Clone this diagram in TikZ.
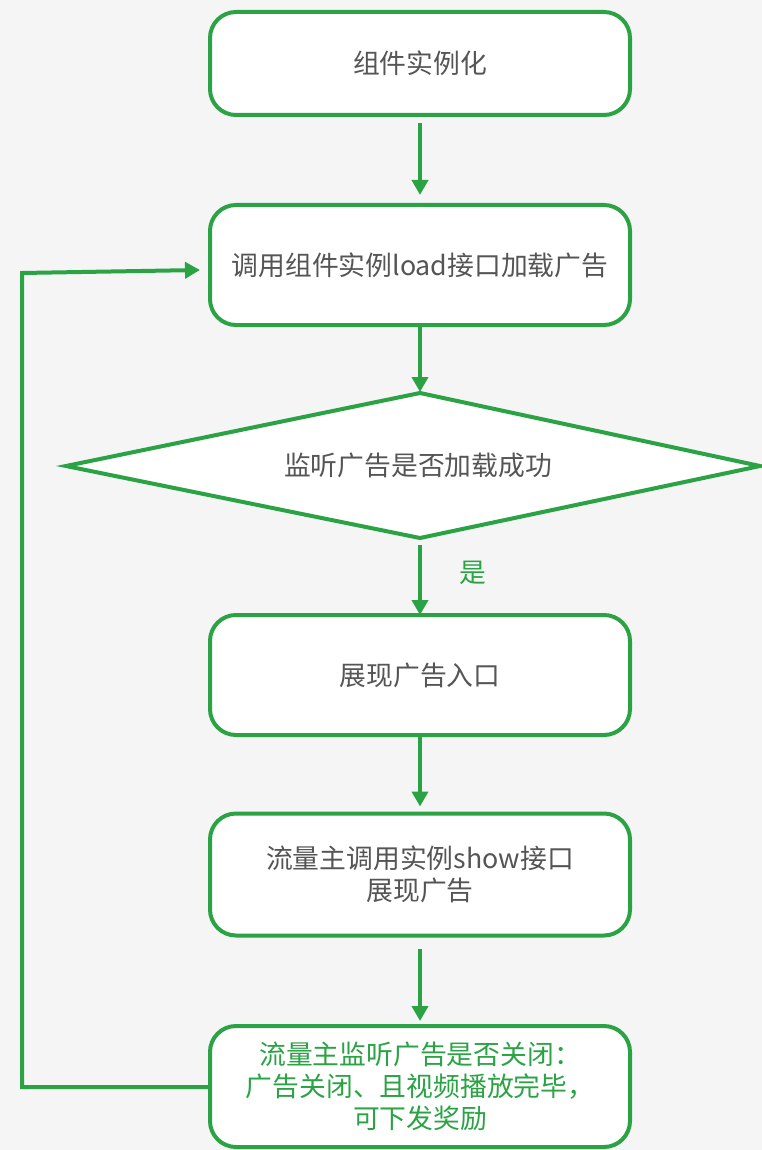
\documentclass[tikz,border=0pt]{standalone}
\usepackage{fontspec}
\setmainfont{Noto Sans CJK SC}
\usetikzlibrary{arrows.meta,calc}
\definecolor{gr}{RGB}{43,163,69}
\definecolor{txt}{RGB}{85,85,85}
\definecolor{bg}{RGB}{245,245,245}
\begin{document}
\begin{tikzpicture}[x=1pt,y=-1pt,
  box/.style={draw=gr,line width=4pt,fill=white,rounded corners=26pt,
    minimum width=420pt,inner sep=0pt,align=center,text=txt,
    font=\fontsize{26.8}{32}\selectfont},
  conn/.style={draw=gr,line width=4pt,-{Triangle[length=15pt,width=16pt]}},
  lbl/.style={text=gr,font=\fontsize{26.8}{32}\selectfont}]
\useasboundingbox (0,0) rectangle (762,1150);
\fill[bg] (0,0) rectangle (762,1150);

\node[box,minimum height=103pt] (b1) at (420,63.5) {组件实例化};
\node[box,minimum height=120pt] (b2) at (420,265) {调用组件实例load接口加载广告};

\coordinate (dt) at (420,393);
\coordinate (dr) at (760,466);
\coordinate (db) at (420,538);
\coordinate (dl) at (66,466);
\draw[gr,line width=4pt,fill=white,line join=miter] (dt) -- (dr) -- (db) -- (dl) -- cycle;
\node[text=txt,font=\fontsize{26.8}{32}\selectfont] (d) at (418,465) {监听广告是否加载成功};

\node[box,minimum height=120pt] (b4) at (420,675) {展现广告入口};
\node[box,minimum height=122pt] (b5) at (420,874.5) {流量主调用实例show接口\\展现广告};
\node[box,minimum height=121pt,text=gr] (b6) at (420,1086.5) {流量主监听广告是否关闭：\\广告关闭、且视频播放完毕，\\可下发奖励};

\draw[conn,shorten <=6pt,shorten >=8pt] (b1.south) -- (b2.north);
\draw[conn] (b2.south) -- ($(dt)+(0,-1)$);
\draw[conn,shorten <=7pt] (db) -- ($(b4.north)+(0,2)$);
\draw[conn,shorten >=5pt] (b4.south) -- (b5.north);
\draw[conn,shorten <=11pt,shorten >=3pt] (b5.south) -- (b6.north);

\node[lbl] (yes) at (473,573) {是};

\coordinate (l1) at (22,1087);
\coordinate (l2) at (22,273);
\coordinate (l3) at (200,270);
\draw[conn,line join=miter] (b6.west |- l1) -- (l1) -- (l2) -- (l3);
\end{tikzpicture}
\end{document}
